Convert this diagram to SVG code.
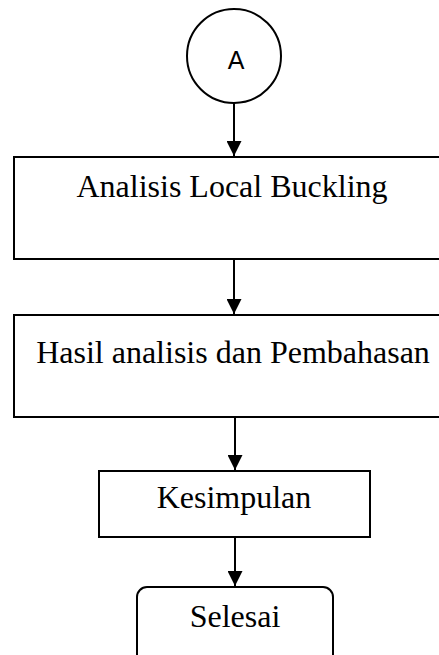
<svg xmlns="http://www.w3.org/2000/svg" width="439" height="655" viewBox="0 0 439 655">
<style>
.shape{fill:#fff;stroke:#000;stroke-width:2}
.t{font-family:"Liberation Serif","Times New Roman",serif;font-size:32px;fill:#000;text-anchor:middle}
.ts{font-family:"Liberation Sans",Arial,sans-serif;font-size:25px;fill:#000;text-anchor:middle}
.c{stroke:#000;stroke-width:2;fill:none}
</style>
<defs>
<marker id="ah" markerUnits="userSpaceOnUse" markerWidth="15" markerHeight="15" viewBox="0 0 15 15" refX="15" refY="7.5" orient="auto">
<path d="M0,0 L15,7.5 L0,15 Z" fill="#000"/>
</marker>
</defs>
<rect width="439" height="655" fill="#fff"/>
<g id="connectors">
<line class="c" x1="234" y1="103" x2="234" y2="156" marker-end="url(#ah)"/>
<line class="c" x1="234" y1="260" x2="234" y2="314" marker-end="url(#ah)"/>
<line class="c" x1="235" y1="417" x2="235" y2="470" marker-end="url(#ah)"/>
<line class="c" x1="235" y1="537" x2="235" y2="586" marker-end="url(#ah)"/>
</g>
<g id="nodeA">
<circle class="shape" cx="234" cy="56" r="47"/>
<text class="ts" x="236" y="69">A</text>
</g>
<g id="node1">
<rect class="shape" x="14" y="157" width="440" height="102"/>
<text class="t" x="232" y="197">Analisis Local Buckling</text>
</g>
<g id="node2">
<rect class="shape" x="14" y="315" width="440" height="102"/>
<text class="t" x="233" y="363">Hasil analisis dan Pembahasan</text>
</g>
<g id="node3">
<rect class="shape" x="99" y="471" width="271" height="66"/>
<text class="t" x="234" y="508">Kesimpulan</text>
</g>
<g id="node4">
<rect class="shape" x="137" y="587" width="196" height="80" rx="10" ry="10"/>
<text class="t" x="235" y="627">Selesai</text>
</g>
</svg>
